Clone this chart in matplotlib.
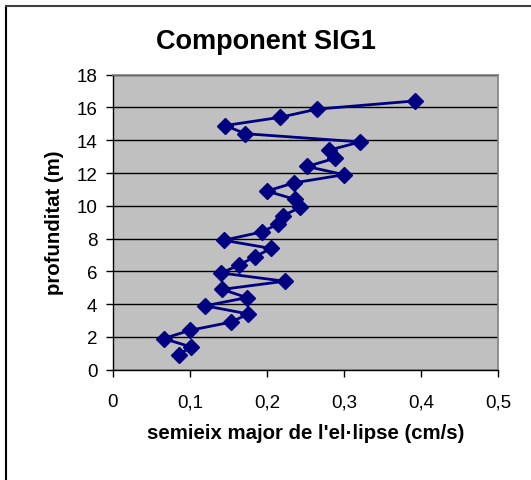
# Component SIG1 profile: semi-major axis vs depth

import matplotlib
matplotlib.use("Agg")
import matplotlib.pyplot as plt
from matplotlib.lines import Line2D
from matplotlib.ticker import FuncFormatter

depth = [16.4, 15.9, 15.4, 14.9, 14.4, 13.9, 13.4, 12.9, 12.4, 11.9, 11.4,
         10.9, 10.4, 9.9, 9.4, 8.9, 8.4, 7.9, 7.4, 6.9, 6.4, 5.9, 5.4, 4.9,
         4.4, 3.9, 3.4, 2.9, 2.4, 1.9, 1.4, 0.9]
semiaxis = [0.392, 0.265, 0.217, 0.146, 0.172, 0.321, 0.281, 0.288, 0.252,
            0.300, 0.235, 0.200, 0.236, 0.243, 0.221, 0.215, 0.193, 0.144,
            0.205, 0.185, 0.164, 0.141, 0.223, 0.142, 0.174, 0.120, 0.176,
            0.153, 0.100, 0.066, 0.101, 0.086]

plt.rcParams['font.family'] = ['Liberation Sans', 'DejaVu Sans']

fig = plt.figure(figsize=(5.31, 4.81), dpi=100)
ax = fig.add_axes([0.2122, 0.2293, 0.7262, 0.6133])

ax.set_facecolor('#c0c0c0')
for side in ['top', 'right']:
    ax.spines[side].set_color('#808080')
    ax.spines[side].set_linewidth(1.2)
for side in ['left', 'bottom']:
    ax.spines[side].set_color('black')
    ax.spines[side].set_linewidth(1.0)

ax.plot(semiaxis, depth, color='#000080', linewidth=2, marker='D',
        markersize=8, markerfacecolor='#000080', markeredgecolor='#000080',
        zorder=3)

ax.set_xlim(0, 0.5)
ax.set_ylim(0, 18)
ax.set_xticks([0, 0.1, 0.2, 0.3, 0.4, 0.5])
ax.set_yticks(range(0, 19, 2))
ax.xaxis.set_major_formatter(FuncFormatter(lambda v, p: ('%g' % round(v, 1)).replace('.', ',')))
ax.yaxis.grid(True, color='black', linewidth=1)
ax.set_axisbelow(True)
ax.tick_params(direction='out', length=5, width=1, labelsize=13.5, pad=6)
ax.tick_params(axis='x', pad=12)

fig.text(0.5, 1 - 42 / 481, "Component SIG1", fontsize=19.5, weight='bold',
         ha='center', va='center')
ax.set_xlabel("semieix major de l'el\u00b7lipse (cm/s)", fontsize=14.7, weight='bold')
ax.set_ylabel("profunditat (m)", fontsize=14.7, weight='bold')
ax.xaxis.set_label_coords(0.5, -(433 - 370.7) / 295, transform=ax.transAxes)
ax.yaxis.set_label_coords(-(112.7 - 55) / 385.6, 0.5, transform=ax.transAxes)
ax.xaxis.label.set_va('center')
ax.yaxis.label.set_va('center')

# chart border (only top and left edges visible)
fig.add_artist(Line2D([0.0113, 0.0113], [0, 0.9855], transform=fig.transFigure,
                      color='black', linewidth=1.5))
fig.add_artist(Line2D([0.0113, 1.0], [0.9855, 0.9855], transform=fig.transFigure,
                      color='#404040', linewidth=1.5))

fig.savefig('out.png', dpi=100)
